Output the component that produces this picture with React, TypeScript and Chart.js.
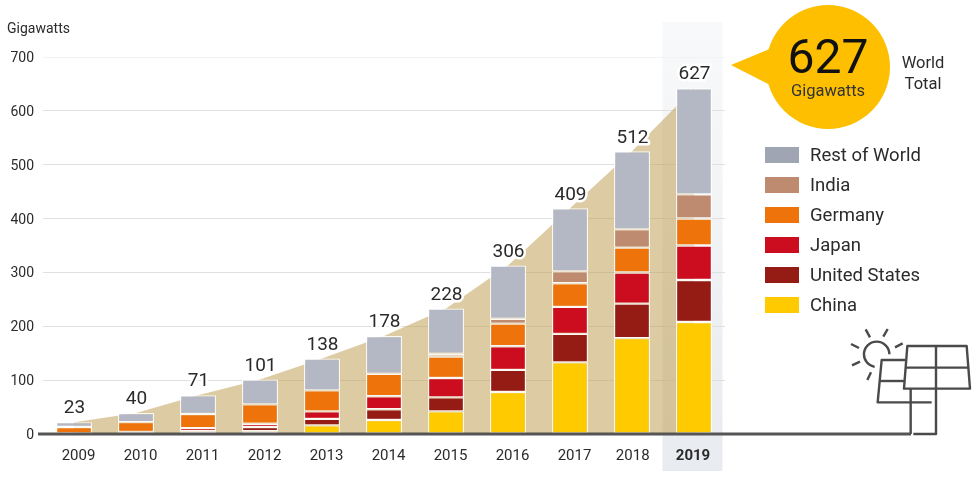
import React, { useEffect, useRef } from "react";
import { Chart, registerables } from "chart.js";

Chart.register(...registerables);

const years = ["2009", "2010", "2011", "2012", "2013", "2014", "2015", "2016", "2017", "2018", "2019"];
const china = [0, 0, 1, 5, 16, 26, 42, 78, 133, 178, 208];
const unitedStates = [0, 1, 4, 8, 12, 20, 26, 41, 53, 64, 78];
const japan = [0, 3, 6, 6, 14, 24, 36, 44, 50, 58, 64];
const germany = [13, 18, 26, 36, 39, 42, 40, 42, 44, 46, 50];
const india = [0, 0, 0, 0, 0, 0, 5, 9, 22, 34, 45];
const restOfWorld = [9, 17, 35, 46, 59, 70, 84, 99, 117, 145, 197];
const totalLabels = [23, 40, 71, 101, 138, 178, 228, 306, 409, 512, 627];
const yTicks = [0, 100, 200, 300, 400, 500, 600, 700];

const FONT = "Roboto, 'Liberation Sans', sans-serif";
const INK = "#2b2b2b";

const series = [
  { label: "China", data: china, color: "#FFCB00" },
  { label: "United States", data: unitedStates, color: "#951B15" },
  { label: "Japan", data: japan, color: "#CC0D1F" },
  { label: "Germany", data: germany, color: "#EE730B" },
  { label: "India", data: india, color: "#BF8B70" },
  { label: "Rest of World", data: restOfWorld, color: "#B3B8C4" },
];
const totals = years.map((_, i) => series.reduce((s, d) => s + d.data[i], 0));

function line(ctx: CanvasRenderingContext2D, pts: number[][], close = false) {
  ctx.beginPath();
  pts.forEach(([x, y], i) => (i ? ctx.lineTo(x, y) : ctx.moveTo(x, y)));
  if (close) ctx.closePath();
  ctx.stroke();
}

const decor = {
  id: "decor",
  beforeDraw(chart: any) {
    const { ctx, scales } = chart;
    const x = scales.x;
    const l = x.getPixelForValue(10) - 31.5;
    const g = ctx.createLinearGradient(0, 22, 0, 471);
    g.addColorStop(0, "#f8f9fa");
    g.addColorStop(1, "#e8ebef");
    ctx.save();
    ctx.fillStyle = g;
    ctx.fillRect(l, 22, 60, 449);
    ctx.restore();
  },
  afterDatasetsDraw(chart: any) {
    const { ctx, scales } = chart;
    const y0 = scales.y.getPixelForValue(0);
    ctx.save();

    // Total labels above each bar, with a thin white halo
    const top = chart.getDatasetMeta(series.length - 1);
    ctx.font = `19px ${FONT}`;
    ctx.textAlign = "center";
    ctx.textBaseline = "middle";
    ctx.lineJoin = "round";
    totalLabels.forEach((v, i) => {
      const el = top.data[i];
      const cx = el.x + 0.5;
      const cy = el.y - 13.5;
      ctx.strokeStyle = "#fff";
      ctx.lineWidth = 5;
      ctx.strokeText(String(v), cx, cy);
      ctx.fillStyle = INK;
      ctx.fillText(String(v), cx, cy);
    });

    // Year labels (they sit slightly off the bar centres in the original)
    years.forEach((label, i) => {
      const last = i === years.length - 1;
      const nudge = last ? -1 : i === years.length - 2 ? 0.7 : 4.5;
      ctx.font = `${last ? "bold " : ""}15px ${FONT}`;
      ctx.fillStyle = INK;
      ctx.fillText(label, scales.x.getPixelForValue(i) + nudge, 456.5);
    });

    // Axis title
    ctx.textAlign = "left";
    ctx.font = `14px ${FONT}`;
    ctx.fillStyle = INK;
    ctx.fillText("Gigawatts", 7, 29);

    // Baseline and icon
    ctx.strokeStyle = "#555";
    ctx.lineWidth = 3;
    line(ctx, [[38, y0], [911, y0]]);

    ctx.strokeStyle = "#4a4a4a";
    ctx.lineWidth = 2.4;
    const ix = (v: number) => 700 + v / 3;
    const iy = (v: number) => 320 + v / 3;
    const p = (a: number[][]) => a.map(([m, n]) => [ix(m), iy(n)]);
    ctx.beginPath();
    ctx.arc(ix(530), iy(103), 12.7, 0, Math.PI * 0.55, true);
    ctx.stroke();
    [
      [[497, 28], [510, 52]],
      [[563, 27], [550, 50]],
      [[453, 72], [477, 84]],
      [[608, 70], [585, 82]],
      [[456, 136], [480, 125]],
      [[513, 157], [502, 180]],
    ].forEach((s) => line(ctx, p(s)));
    line(ctx, p([[615, 120], [545, 120], [533, 247], [695, 247]]));
    line(ctx, p([[540, 183], [612, 183]]));
    line(ctx, p([[622, 78], [800, 78], [810, 206], [612, 206]]), true);
    line(ctx, p([[617, 143], [805, 143]]));
    line(ctx, p([[708, 78], [708, 342], [640, 342]]));
    line(ctx, p([[632, 206], [632, 342]]));

    // Callout
    ctx.fillStyle = "#FDBF00";
    ctx.beginPath();
    ctx.arc(828, 67, 62, 0, Math.PI * 2);
    ctx.fill();
    ctx.beginPath();
    ctx.moveTo(731, 65);
    ctx.lineTo(772, 48);
    ctx.lineTo(772, 86);
    ctx.closePath();
    ctx.fill();
    ctx.textAlign = "center";
    ctx.fillStyle = "#111";
    ctx.font = `48px ${FONT}`;
    ctx.fillText("627", 828, 61);
    ctx.fillStyle = "#333";
    ctx.font = `16.5px ${FONT}`;
    ctx.fillText("Gigawatts", 828, 92);
    ctx.fillStyle = INK;
    ctx.font = `16.5px ${FONT}`;
    ctx.fillText("World", 923, 64);
    ctx.fillText("Total", 923, 85);

    // Legend
    ctx.textAlign = "left";
    ctx.font = `18.5px ${FONT}`;
    [...series].reverse().forEach((s, i) => {
      const yy = 155 + i * 30;
      ctx.fillStyle = s.label === "Rest of World" ? "#A0A5B4" : s.color;
      ctx.fillRect(765, yy - 8, 34, 16);
      ctx.fillStyle = INK;
      ctx.fillText(s.label, 810, yy + 1.5);
    });
    ctx.restore();
  },
};

export default function App() {
  const ref = useRef<HTMLCanvasElement>(null);
  useEffect(() => {
    document.body.style.margin = "0";
    const chart = new Chart(ref.current!, {
      type: "bar",
      data: {
        labels: years,
        datasets: [
          ...series.map((s) => ({
            type: "bar" as const,
            label: s.label,
            data: s.data,
            backgroundColor: s.color,
            borderColor: "rgba(255,255,255,0.88)",
            borderWidth: 1.2,
            borderSkipped: false as const,
            barPercentage: 0.58,
            categoryPercentage: 1,
            order: 1,
          })),
          {
            type: "line" as const,
            label: "Total",
            data: totals,
            backgroundColor: "rgba(193,160,88,0.55)",
            borderWidth: 0,
            pointRadius: 0,
            tension: 0,
            fill: "origin",
            order: 2,
          },
        ],
      },
      options: {
        responsive: false,
        animation: false,
        layout: { padding: { top: 57, right: 255, left: 0, bottom: 0 } },
        plugins: { legend: { display: false }, tooltip: { enabled: false } },
        scales: {
          x: {
            stacked: true,
            grid: { display: false, drawTicks: false },
            border: { display: false },
            ticks: { display: false },
            afterFit: (s: any) => {
              s.height = 50;
            },
          },
          y: {
            stacked: true,
            min: 0,
            max: 700,
            afterBuildTicks: (s: any) => {
              s.ticks = yTicks.map((value) => ({ value }));
            },
            grid: {
              drawTicks: false,
              lineWidth: 1,
              color: (c: any) => (c.tick?.value === 700 ? "#f3f3f3" : "#e0e0e0"),
            },
            border: { display: false },
            ticks: { padding: 9, labelOffset: 1.5, color: "#2b2b2b", font: { family: FONT, size: 14 } },
            afterFit: (s: any) => {
              s.width = 43;
            },
          },
        },
      },
      plugins: [decor],
    } as any);
    return () => chart.destroy();
  }, []);
  return (
    <div style={{ position: "absolute", left: 0, top: 0, width: 980, height: 484, background: "#fff" }}>
      <canvas ref={ref} width={980} height={484} style={{ display: "block" }} />
    </div>
  );
}
